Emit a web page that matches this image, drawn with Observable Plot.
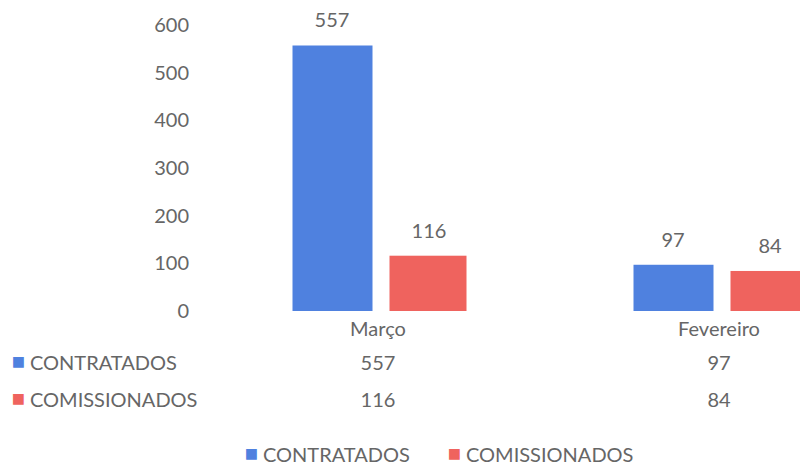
<!DOCTYPE html>
<html>
<head>
<meta charset="utf-8">
<script src="https://cdn.jsdelivr.net/npm/d3@7"></script>
<script src="https://cdn.jsdelivr.net/npm/@observablehq/plot@0.6"></script>
<style>
  html, body { margin: 0; padding: 0; background: #fff; overflow: hidden; }
  #chart svg { display: block; }
</style>
</head>
<body>
<div id="chart"></div>
<script>
const months = ["Março", "Fevereiro"];
const contratados = [557, 97];
const comissionados = [116, 84];
const seriesNames = ["CONTRATADOS", "COMISSIONADOS"];
const seriesColors = ["#4f81df", "#ef635e"];
const yTicks = [0, 100, 200, 300, 400, 500, 600];

const rowsC = months.map((m, i) => ({month: m, value: contratados[i]}));
const rowsM = months.map((m, i) => ({month: m, value: comissionados[i]}));

const gray = "#666666";
const font = "Lato, 'Open Sans', sans-serif";
const fs = 20;

const plot = Plot.plot({
  width: 800,
  height: 474,
  marginLeft: 206.5,
  marginRight: 0,
  marginTop: 25,
  marginBottom: 163,
  style: {fontFamily: font, background: "#fff", color: gray},
  x: {domain: months, range: [206.5, 888.5], padding: 0, axis: null},
  y: {domain: [0, 600], range: [311, 25], axis: null},
  marks: [
    Plot.axisY({ticks: yTicks, tickSize: 0, tickPadding: 18, fontSize: fs, fill: gray, label: null}),
    // bars
    Plot.barY(rowsC, {x: "month", y: "value", fill: seriesColors[0], insetLeft: 85.5, insetRight: 175.5}),
    Plot.barY(rowsM, {x: "month", y: "value", fill: seriesColors[1], insetLeft: 182.5, insetRight: 81.5}),
    // value labels
    Plot.text(rowsC, {x: "month", y: "value", text: d => String(d.value), dx: -46, dy: -25, fontSize: fs, fill: gray}),
    Plot.text(rowsM, {x: "month", y: "value", text: d => String(d.value), dx: 51, dy: -25, fontSize: fs, fill: gray}),
    // category labels (table header)
    Plot.text(months, {x: d => d, frameAnchor: "bottom", dy: 24, text: d => d, fontSize: fs, fill: gray}),
    // data table values
    Plot.text(rowsC, {x: "month", frameAnchor: "bottom", dy: 58, text: d => String(d.value), fontSize: fs, fill: gray}),
    Plot.text(rowsM, {x: "month", frameAnchor: "bottom", dy: 95, text: d => String(d.value), fontSize: fs, fill: gray}),
    // table row headers
    Plot.text([seriesNames[0]], {frameAnchor: "bottom-left", dx: -188.5, dy: 57, text: d => "■", fontSize: 22, fill: seriesColors[0], textAnchor: "middle"}),
    Plot.text([seriesNames[0]], {frameAnchor: "bottom-left", dx: -177, dy: 58, text: d => d, fontSize: fs, fill: gray, textAnchor: "start"}),
    Plot.text([seriesNames[1]], {frameAnchor: "bottom-left", dx: -188.5, dy: 94, text: d => "■", fontSize: 22, fill: seriesColors[1], textAnchor: "middle"}),
    Plot.text([seriesNames[1]], {frameAnchor: "bottom-left", dx: -177, dy: 95, text: d => d, fontSize: fs, fill: gray, textAnchor: "start"}),
    // legend
    Plot.text([seriesNames[0]], {frameAnchor: "bottom-left", dx: 44.5, dy: 149, text: d => "■", fontSize: 22, fill: seriesColors[0], textAnchor: "middle"}),
    Plot.text([seriesNames[0]], {frameAnchor: "bottom-left", dx: 56, dy: 150, text: d => d, fontSize: fs, fill: gray, textAnchor: "start"}),
    Plot.text([seriesNames[1]], {frameAnchor: "bottom-left", dx: 247.5, dy: 149, text: d => "■", fontSize: 22, fill: seriesColors[1], textAnchor: "middle"}),
    Plot.text([seriesNames[1]], {frameAnchor: "bottom-left", dx: 259, dy: 150, text: d => d, fontSize: fs, fill: gray, textAnchor: "start"})
  ]
});
document.getElementById("chart").appendChild(plot);
</script>
</body>
</html>
